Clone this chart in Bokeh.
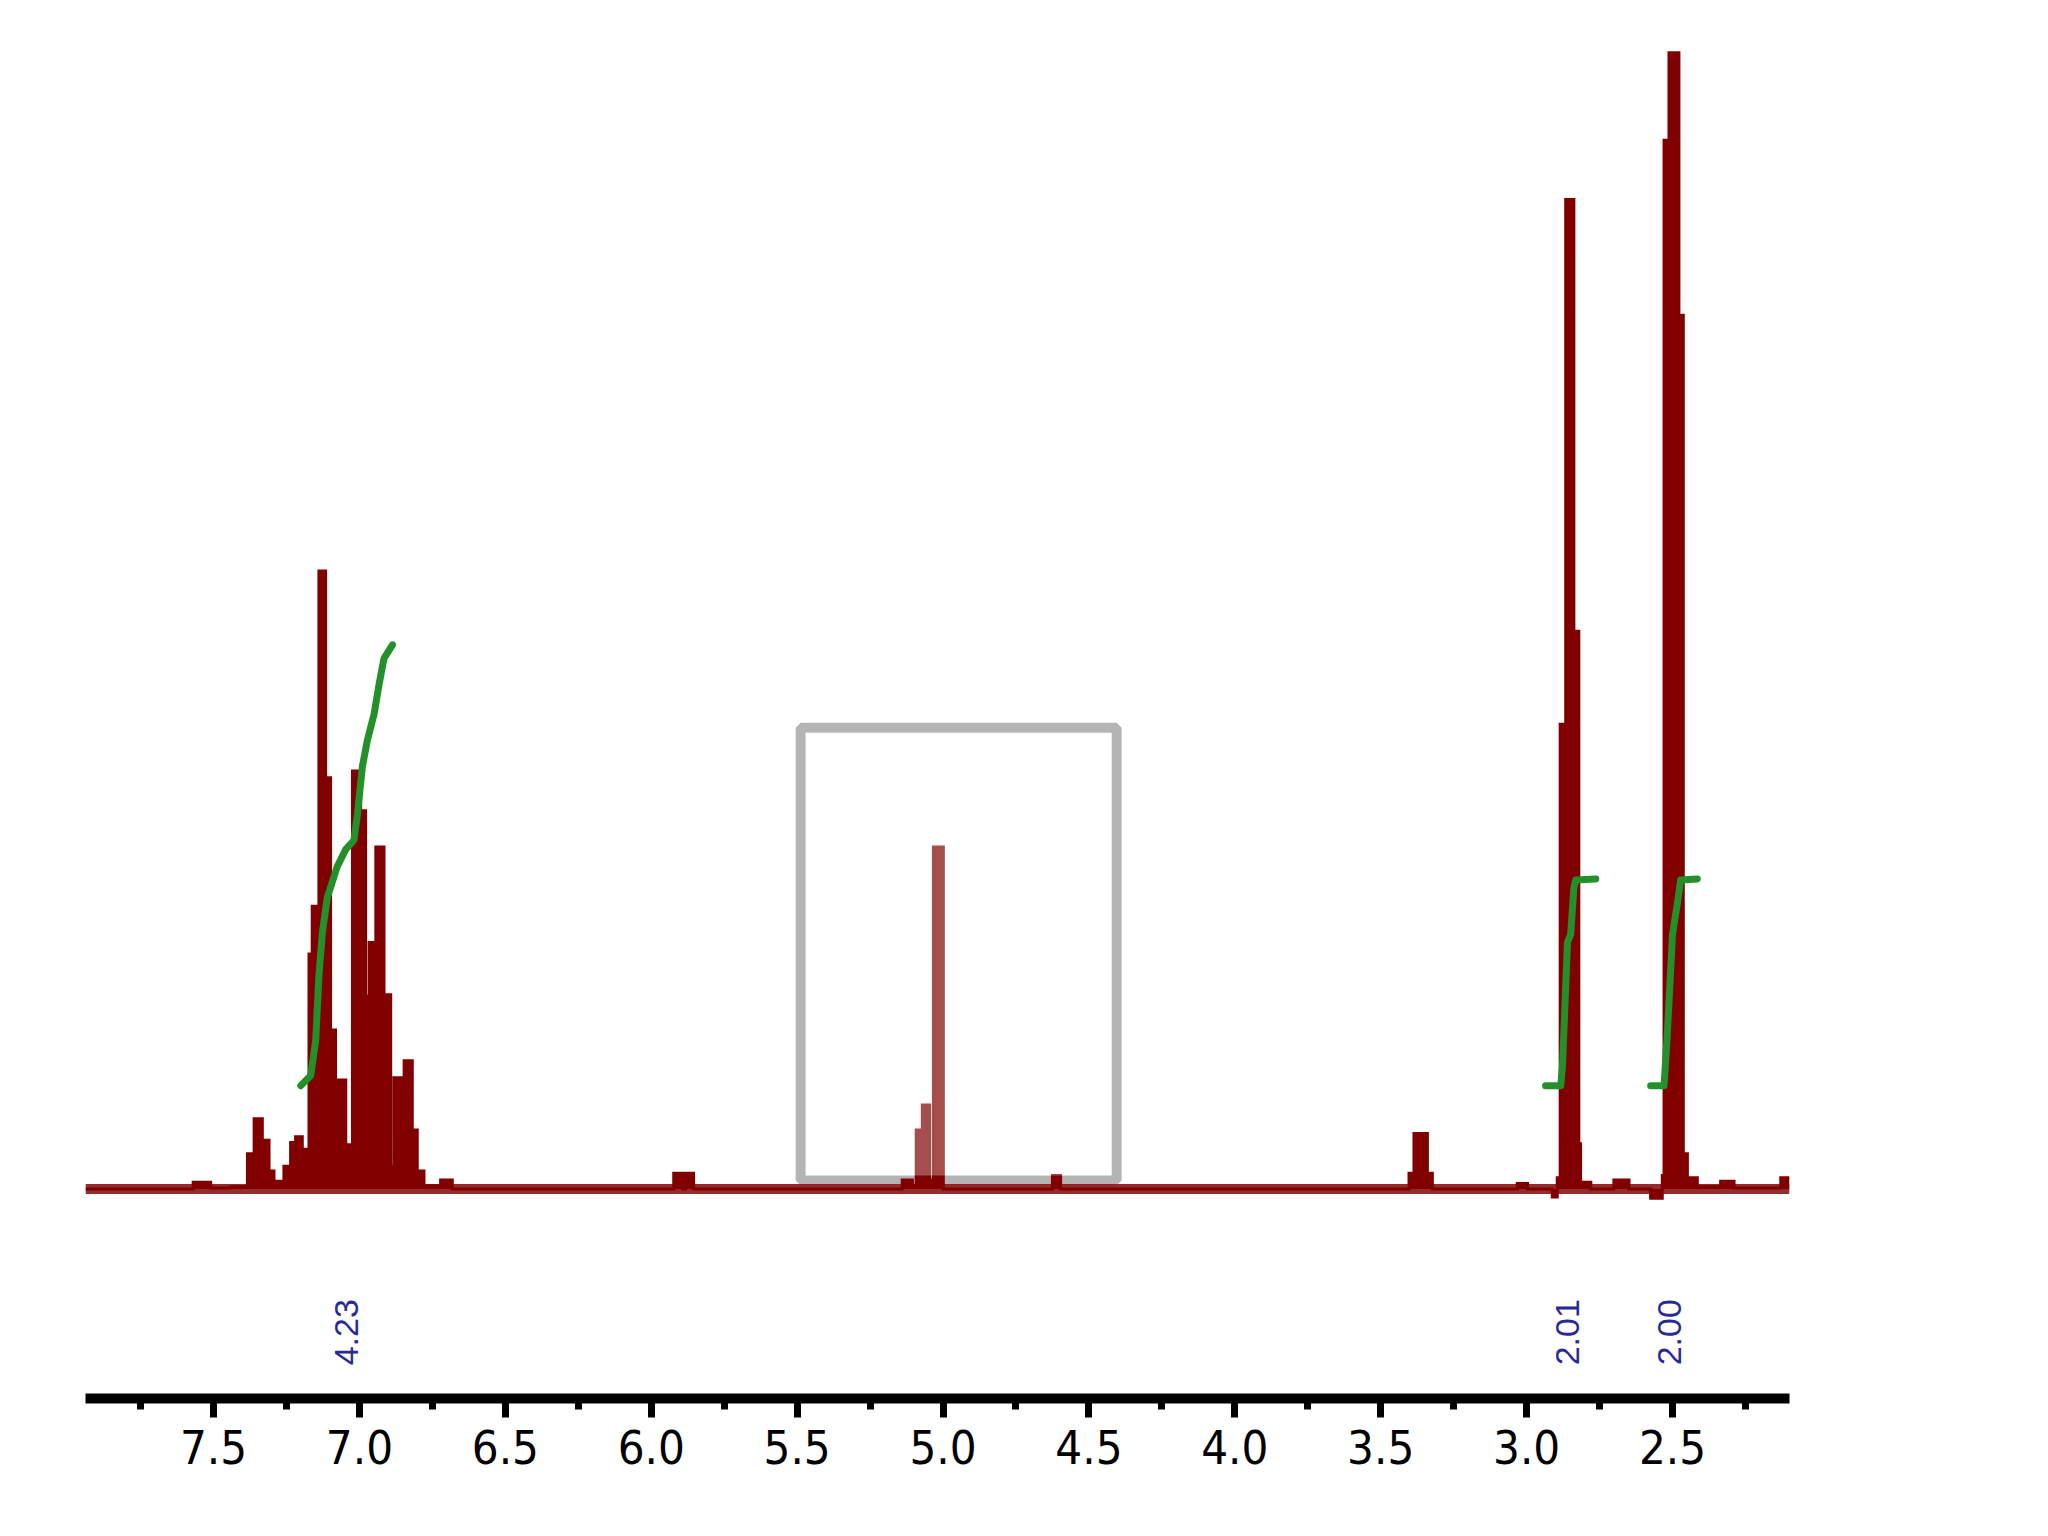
import numpy as np
from bokeh.plotting import figure
from bokeh.models import Range1d, FixedTicker, BoxAnnotation, Span
from bokeh.embed import file_html
from bokeh.resources import INLINE
from bokeh.core.properties import value

# ---------------- data ----------------
# 1H spectrum as step levels: chemical shift (ppm) where each level starts, and intensity (tallest peak = 100)
spec_ppm = [7.939, 7.57, 7.51, 7.44, 7.384, 7.361, 7.333, 7.310, 7.293, 7.259, 7.236, 7.219, 7.196,
            7.179, 7.173, 7.162, 7.139, 7.116, 7.099, 7.082, 7.047, 7.024, 6.996, 6.979, 6.967,
            6.944, 6.916, 6.893, 6.882, 6.847, 6.819, 6.802, 6.779, 6.722, 6.682,
            5.923, 5.892, 5.882, 5.855,
            5.140, 5.105, 5.092, 5.071, 5.046, 5.033, 4.999, 4.625, 4.597,
            3.403, 3.386, 3.340, 3.323, 3.032, 2.997,
            2.912, 2.895, 2.885, 2.866, 2.838, 2.821, 2.815, 2.780, 2.701, 2.649,
            2.575, 2.535, 2.529, 2.512, 2.478, 2.463, 2.449, 2.415, 2.335, 2.289, 2.129, 2.099]
spec_int = [0.0, 0.6, 0.1, 0.2, 3.1, 6.2, 4.3, 1.6, 0.7, 2.0, 4.1, 4.6, 3.5,
            0.8, 20.7, 24.9, 54.4, 36.2, 14.0, 9.6, 3.9, 36.8, 33.3, 17.0, 21.7,
            30.1, 17.1, 2.0, 9.8, 11.3, 5.2, 1.6, 0.3, 0.8, 0.0,
            1.4, 0.0, 1.4, 0.0,
            0.8, 0.3, 5.2, 7.4, 0.8, 30.1, 0.0, 1.2, 0.0,
            1.4, 4.9, 1.4, 0.0, 0.5, 0.0,
            -0.7, 1.0, 40.9, 87.1, 49.1, 4.0, 0.6, 0.0, 0.8, 0.0,
            -0.8, 1.2, 92.3, 100.0, 76.9, 3.1, 1.0, 0.2, 0.7, 0.1, 1.0, 1.0]

# integral curves
int_arom_ppm = [7.201, 7.167, 7.150, 7.139, 7.127, 7.110, 7.076, 7.047, 7.019, 7.007,
                6.990, 6.973, 6.950, 6.933, 6.916, 6.887]
int_arom_val = [9.1, 10.0, 13.1, 18.8, 22.6, 25.7, 28.4, 29.9, 30.7, 33.0,
                37.2, 39.5, 41.8, 44.4, 46.7, 47.9]
int_285_ppm = [2.935, 2.883, 2.877, 2.860, 2.849, 2.838, 2.832, 2.763]
int_285_val = [9.1, 9.1, 10.8, 21.7, 22.4, 26.5, 27.2, 27.3]
int_250_ppm = [2.575, 2.529, 2.518, 2.500, 2.483, 2.472, 2.415]
int_250_val = [9.1, 9.1, 13.5, 22.4, 25.2, 27.2, 27.3]

integral_labels = ["4.23", "2.01", "2.00"]
integral_label_ppm = [7.044, 2.859, 2.510]
integral_label_level = -12.6

major_ticks = [7.5, 7.0, 6.5, 6.0, 5.5, 5.0, 4.5, 4.0, 3.5, 3.0, 2.5]
minor_ticks = [7.75, 7.25, 6.75, 6.25, 5.75, 5.25, 4.75, 4.25, 3.75, 3.25, 2.75, 2.25]
tick_labels = ["7.5", "7.0", "6.5", "6.0", "5.5", "5.0", "4.5", "4.0", "3.5", "3.0", "2.5"]

x_view = (7.939, 2.099)
y_view = (-18.43, 103.9)
highlight_left, highlight_right = 5.488, 4.405
highlight_bottom, highlight_top = 0.75, 40.6

# ---------------- styling ----------------
FRAME_W, FRAME_H = 1704, 1390
SPEC_COLOR = "#800000"
INT_COLOR = "#23902a"
LABEL_COLOR = "#2a2a96"
BOX_LINE = 10

p = figure(frame_width=FRAME_W, frame_height=FRAME_H,
           min_border_left=85, min_border_right=241, min_border_top=8, min_border_bottom=128,
           x_range=Range1d(*x_view), y_range=Range1d(*y_view),
           output_backend="svg", toolbar_location=None, tools="")
p.outline_line_color = None
p.xgrid.visible = False
p.ygrid.visible = False
p.yaxis.visible = False
p.background_fill_color = "white"
p.border_fill_color = "white"

px_per_ppm = FRAME_W / (x_view[0] - x_view[1])
px_per_unit = FRAME_H / (y_view[1] - y_view[0])

# highlight box border (under the trace)
p.add_layout(BoxAnnotation(left=highlight_left, right=highlight_right,
                           bottom=highlight_bottom, top=highlight_top,
                           fill_alpha=0, line_color="#b4b4b4", line_alpha=1.0,
                           line_width=BOX_LINE, level="underlay"))

# baseline band
p.add_layout(Span(location=0, dimension="width", line_color="#8a1414", line_width=10,
                  line_alpha=0.9, level="underlay"))

# step trace
sx, sy = [], []
for i in range(len(spec_ppm) - 1):
    sx += [spec_ppm[i], spec_ppm[i + 1]]
    sy += [spec_int[i], spec_int[i]]
sx.append(spec_ppm[-1])
sy.append(spec_int[-1])
p.patch([sx[0]] + sx + [sx[-1]], [0] + sy + [0], fill_color=SPEC_COLOR, line_color=None)
p.line(sx, sy, line_color=SPEC_COLOR, line_width=3, line_join="miter")

# translucent overlay inside the highlight box
d_ppm = (BOX_LINE / 2) / px_per_ppm
d_y = (BOX_LINE / 2) / px_per_unit
p.add_layout(BoxAnnotation(left=highlight_left - d_ppm, right=highlight_right + d_ppm,
                           bottom=highlight_bottom + d_y, top=highlight_top - d_y,
                           fill_color="white", fill_alpha=0.3, line_alpha=0))

# integral curves
for xs, ys in [(int_arom_ppm, int_arom_val), (int_285_ppm, int_285_val), (int_250_ppm, int_250_val)]:
    p.line(xs, ys, line_color=INT_COLOR, line_width=7, line_cap="round", line_join="round")

# integral values
p.text(x=integral_label_ppm, y=[integral_label_level] * len(integral_labels), text=integral_labels,
       angle=np.pi / 2, text_align="center", text_baseline="middle",
       text_font=value("Liberation Sans"), text_font_size="34px", text_color=LABEL_COLOR)

# x axis
ax = p.xaxis[0]
ax.ticker = FixedTicker(ticks=major_ticks, minor_ticks=minor_ticks)
ax.major_label_overrides = {t: s for t, s in zip(major_ticks, tick_labels)}
ax.axis_line_width = 10
ax.axis_line_color = "black"
ax.major_tick_line_width = 7
ax.minor_tick_line_width = 7
ax.major_tick_line_color = "black"
ax.minor_tick_line_color = "black"
ax.major_tick_in = 0
ax.major_tick_out = 19
ax.minor_tick_in = 0
ax.minor_tick_out = 11
ax.major_label_standoff = 12
ax.major_label_text_font = "'Liberation Sans Narrow', 'Arial Narrow', 'DejaVu Sans Condensed', sans-serif"
ax.major_label_text_font_size = "47px"
ax.major_label_text_color = "black"

open("out.html", "w").write(file_html(p, INLINE))
